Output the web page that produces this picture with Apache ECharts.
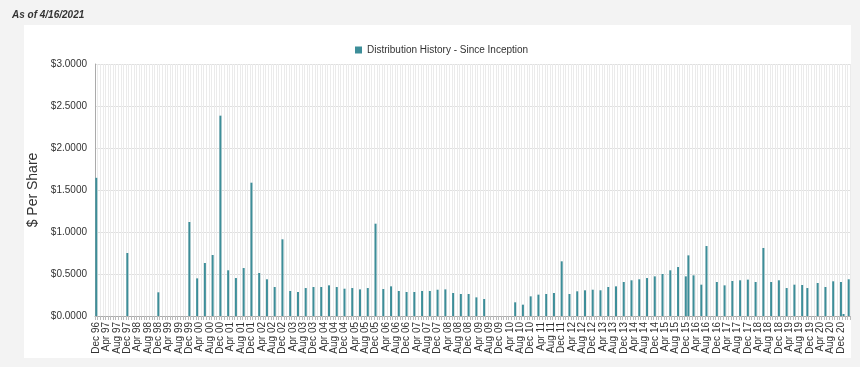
<!DOCTYPE html>
<html>
<head>
<meta charset="utf-8">
<script src="https://cdn.jsdelivr.net/npm/echarts@6/dist/echarts.min.js"></script>
<style>
html,body{margin:0;padding:0;background:#f3f3f3;}
#chart{width:860px;height:367px;}
</style>
</head>
<body>
<div id="chart"></div>
<script>
// Distribution pay months and amounts ($ per share)
var payMonths = [
 'Dec 96','Dec 97','Dec 98','Dec 99','Mar 00','Jun 00','Sep 00','Dec 00',
 'Mar 01','Jun 01','Sep 01','Dec 01','Mar 02','Jun 02','Sep 02','Dec 02',
 'Mar 03','Jun 03','Sep 03','Dec 03','Mar 04','Jun 04','Sep 04','Dec 04',
 'Mar 05','Jun 05','Sep 05','Dec 05','Mar 06','Jun 06','Sep 06','Dec 06',
 'Mar 07','Jun 07','Sep 07','Dec 07','Mar 08','Jun 08','Sep 08','Dec 08',
 'Mar 09','Jun 09','Jun 10','Sep 10','Dec 10',
 'Mar 11','Jun 11','Sep 11','Dec 11','Mar 12','Jun 12','Sep 12','Dec 12',
 'Mar 13','Jun 13','Sep 13','Dec 13','Mar 14','Jun 14','Sep 14','Dec 14',
 'Mar 15','Jun 15','Sep 15','Dec 15','Jan 16','Mar 16','Jun 16','Aug 16','Dec 16',
 'Mar 17','Jun 17','Sep 17','Dec 17','Mar 18','Jun 18','Sep 18','Dec 18',
 'Mar 19','Jun 19','Sep 19','Nov 19','Mar 20','Jun 20','Sep 20','Dec 20','Jan 21','Mar 21'
];
var amounts = [
 1.645,0.750,0.282,1.119,0.448,0.631,0.726,2.385,
 0.544,0.452,0.571,1.587,0.512,0.437,0.345,0.913,
 0.298,0.286,0.333,0.345,0.345,0.365,0.345,0.325,
 0.333,0.317,0.333,1.099,0.321,0.353,0.298,0.286,
 0.286,0.298,0.298,0.313,0.317,0.274,0.262,0.262,
 0.222,0.202,0.163,0.135,0.234,
 0.254,0.262,0.274,0.651,0.262,0.294,0.306,0.313,
 0.306,0.345,0.353,0.405,0.425,0.437,0.452,0.472,
 0.500,0.544,0.583,0.472,0.722,0.484,0.373,0.833,0.405,
 0.365,0.417,0.425,0.433,0.405,0.810,0.405,0.425,
 0.333,0.373,0.369,0.333,0.393,0.345,0.413,0.405,0.024,0.437
];
var monthNames = ['Jan','Feb','Mar','Apr','May','Jun','Jul','Aug','Sep','Oct','Nov','Dec'];
var startYear = 1996, startMonth = 11; // Dec 96
var endYear = 2021, endMonth = 2;      // Mar 21
var yTicks = [0, 0.5, 1.0, 1.5, 2.0, 2.5, 3.0];

// monthly category axis
var categories = [];
(function(){
  var y = startYear, m = startMonth;
  while (y < endYear || (y === endYear && m <= endMonth)) {
    categories.push(monthNames[m] + ' ' + String(y % 100).padStart(2,'0'));
    m++; if (m > 11) { m = 0; y++; }
  }
})();
var values = categories.map(function(c){
  var i = payMonths.indexOf(c);
  return i >= 0 ? amounts[i] : null;
});

var chart = echarts.init(document.getElementById('chart'), null, {renderer:'canvas'});
chart.setOption({
  backgroundColor: '#f3f3f3',
  animation: false,
  textStyle: {fontFamily: '"Liberation Sans", Arial, sans-serif'},
  graphic: [{
    type: 'rect', z: -10, silent: true,
    shape: {x: 24, y: 25, width: 827, height: 333},
    style: {fill: '#ffffff'}
  }],
  title: {
    text: 'As of 4/16/2021', left: 7, top: 5,
    textStyle: {fontSize: 10, fontStyle: 'italic', fontWeight: 'bold', color: '#333', fontFamily: '"Liberation Sans", Arial, sans-serif'}
  },
  legend: {
    top: 40, left: 350,
    icon: 'rect', itemWidth: 7, itemHeight: 7, itemGap: 5,
    textStyle: {fontSize: 10, color: '#333'},
    data: ['Distribution History - Since Inception']
  },
  grid: {left: 95, right: 10, top: 64, bottom: 51, containLabel: false},
  xAxis: {
    type: 'category',
    data: categories,
    boundaryGap: true,
    axisLine: {lineStyle: {color: '#aaaaaa'}},
    axisTick: {show: true, interval: 0, length: 4, lineStyle: {color: '#bbbbbb'}},
    axisLabel: {
      interval: function(index){ return index % 4 === 0; },
      showMinLabel: true, hideOverlap: false,
      rotate: 90, fontSize: 10, color: '#333', margin: 6
    },
    splitLine: {show: true, interval: 0, lineStyle: {color: '#ebebeb', width: 1}}
  },
  yAxis: {
    type: 'value', min: yTicks[0], max: yTicks[yTicks.length-1], interval: 0.5,
    name: '$ Per Share', nameLocation: 'middle', nameGap: 43,
    nameTextStyle: {fontSize: 14, color: '#333'},
    axisLine: {show: true, lineStyle: {color: '#aaaaaa'}},
    axisTick: {show: false},
    axisLabel: {fontSize: 10, color: '#333', margin: 8, formatter: function(v){ return '$' + v.toFixed(4); }},
    splitLine: {lineStyle: {color: '#e0e0e0', width: 1}}
  },
  series: [{
    name: 'Distribution History - Since Inception',
    type: 'bar',
    data: values,
    barWidth: 2,
    itemStyle: {color: '#3d8e99'}
  }]
});
</script>
</body>
</html>
